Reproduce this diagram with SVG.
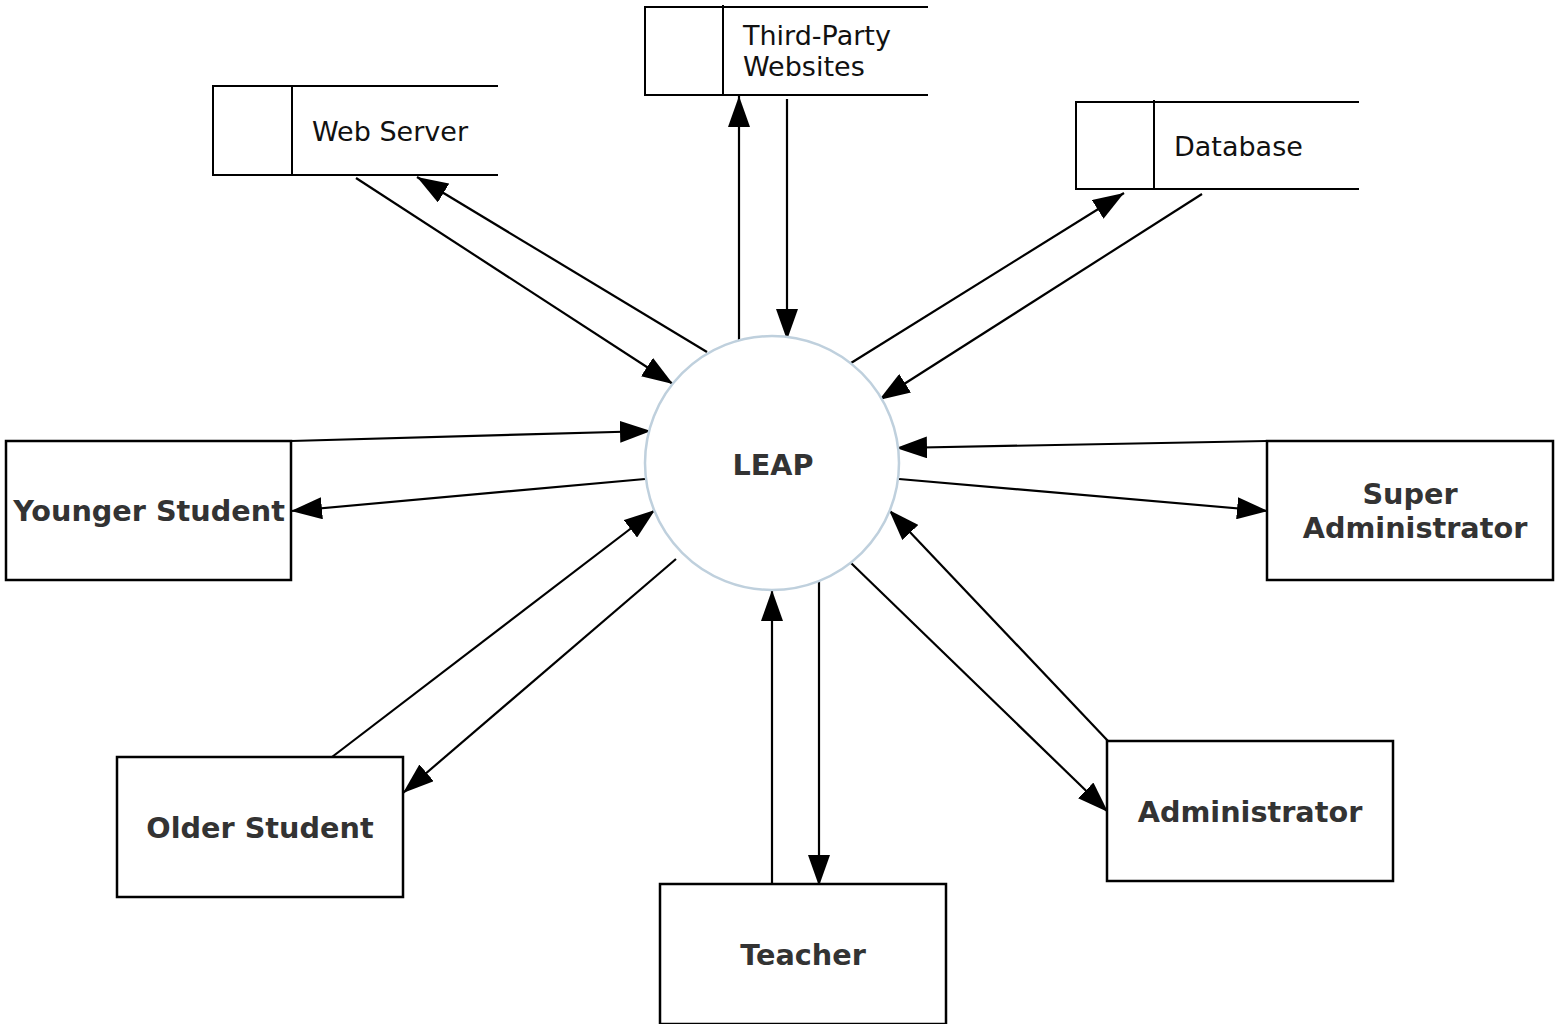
<svg xmlns="http://www.w3.org/2000/svg" width="1564" height="1024" viewBox="0 0 1564 1024">
<style>
.box{fill:#fff;stroke:#000;stroke-width:2.5}
.ds{fill:none;stroke:#000;stroke-width:2}
.lbl{font-family:"DejaVu Sans",Verdana,sans-serif;font-weight:bold;font-size:28.7px;fill:#333;text-anchor:middle}
.dsl{font-family:"DejaVu Sans",Verdana,sans-serif;font-size:27px;fill:#111}
.c{stroke:#000;stroke-width:2.2;fill:none;marker-end:url(#ah)}
</style>
<defs>
<marker id="ah" markerUnits="userSpaceOnUse" markerWidth="31" markerHeight="22" refX="31" refY="11" orient="auto" viewBox="0 0 31 22">
<path d="M0,0 L31,11 L0,22 z" fill="#000"/>
</marker>
</defs>
<rect width="1564" height="1024" fill="#fff"/>
<g id="connectors">
<line class="c" x1="356" y1="178" x2="673" y2="384"/>
<line class="c" x1="707" y1="352" x2="417" y2="177"/>
<line class="c" x1="739" y1="340" x2="739" y2="96"/>
<line class="c" x1="787" y1="99" x2="787" y2="340"/>
<line class="c" x1="851" y1="363" x2="1124" y2="193"/>
<line class="c" x1="1202" y1="194" x2="879" y2="400"/>
<line class="c" x1="291" y1="441" x2="651" y2="431"/>
<line class="c" x1="645" y1="479" x2="291" y2="511"/>
<line class="c" x1="1267" y1="441" x2="896" y2="448"/>
<line class="c" x1="899" y1="479" x2="1268" y2="511"/>
<line class="c" x1="332" y1="757" x2="655" y2="510"/>
<line class="c" x1="676" y1="559" x2="403" y2="793"/>
<line class="c" x1="772" y1="884" x2="772" y2="590"/>
<line class="c" x1="819" y1="580" x2="819" y2="886"/>
<line class="c" x1="851" y1="563" x2="1108" y2="812"/>
<line class="c" x1="1108" y1="741" x2="889" y2="510"/>
</g>
<g id="leap">
<circle cx="772" cy="463" r="127" fill="#fff" stroke="#bfd0dd" stroke-width="2.5"/>
<text class="lbl" x="773" y="475">LEAP</text>
</g>
<g id="web-server">
<path class="ds" d="M498,86 H213 V175 H498 M292,86 V175"/>
<text class="dsl" x="312" y="141">Web Server</text>
</g>
<g id="third-party">
<path class="ds" d="M928,7 H645 V95 H928 M723,5 V95"/>
<text class="dsl" x="743" y="45">Third-Party</text>
<text class="dsl" x="743" y="76">Websites</text>
</g>
<g id="database">
<path class="ds" d="M1359,102 H1076 V189 H1359 M1154,100 V189"/>
<text class="dsl" x="1174" y="156">Database</text>
</g>
<g id="younger-student">
<rect class="box" x="6" y="441" width="285" height="139"/>
<text class="lbl" x="149" y="521">Younger Student</text>
</g>
<g id="super-admin">
<rect class="box" x="1267" y="441" width="286" height="139"/>
<text class="lbl" x="1410" y="504">Super</text>
<text class="lbl" x="1415" y="538">Administrator</text>
</g>
<g id="older-student">
<rect class="box" x="117" y="757" width="286" height="140"/>
<text class="lbl" x="260" y="838">Older Student</text>
</g>
<g id="teacher">
<rect class="box" x="660" y="884" width="286" height="140"/>
<text class="lbl" x="803" y="965">Teacher</text>
</g>
<g id="administrator">
<rect class="box" x="1107" y="741" width="286" height="140"/>
<text class="lbl" x="1250" y="822">Administrator</text>
</g>
</svg>
